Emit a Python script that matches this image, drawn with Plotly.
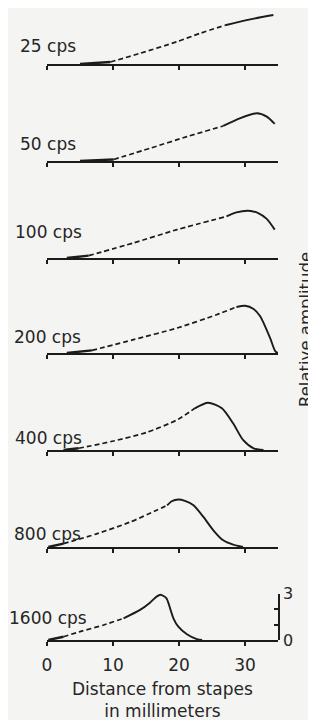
import plotly.graph_objects as go

# ---------------- data ----------------
labels = ["25 cps", "50 cps", "100 cps", "200 cps", "400 cps", "800 cps", "1600 cps"]

x_25 = [5.0, 9.6, 14.1, 19.7, 23.2, 27.0, 30.8, 34.3]
a_25 = [0.0, 0.13, 0.69, 1.44, 1.98, 2.50, 2.88, 3.16]
dash_25 = (9.6, 27.0)

x_50 = [5.0, 10.1, 15.6, 21.2, 26.7, 29.2, 31.8, 33.3, 34.5]
a_50 = [0.0, 0.10, 0.82, 1.57, 2.26, 2.75, 3.08, 2.86, 2.39]
dash_50 = (10.1, 26.7)

x_100 = [3.0, 6.3, 13.1, 19.7, 27.2, 28.7, 30.5, 32.0, 33.3, 34.5]
a_100 = [0.0, 0.15, 0.97, 1.83, 2.68, 2.94, 3.05, 2.90, 2.52, 1.83]
dash_100 = (6.3, 27.2)

x_200 = [3.0, 6.8, 13.1, 19.7, 25.7, 28.7, 30.0, 31.3, 32.3, 33.8, 34.6, 35.0]
a_200 = [0.0, 0.17, 0.86, 1.61, 2.47, 2.97, 3.05, 2.84, 2.37, 0.97, 0.10, 0.0]
dash_200 = (6.8, 28.7)

x_400 = [2.5, 4.8, 10.1, 15.1, 19.7, 22.4, 24.4, 26.5, 28.2, 29.7, 31.3, 32.8]
a_400 = [0.0, 0.11, 0.58, 1.14, 1.94, 2.69, 3.05, 2.69, 1.72, 0.65, 0.11, 0.0]
dash_400 = (4.8, 22.4)

x_800 = [0.2, 2.5, 7.6, 12.6, 16.6, 18.2, 18.9, 19.9, 20.9, 22.2, 23.7, 25.2, 26.7, 28.2, 29.7]
a_800 = [0.0, 0.22, 0.86, 1.61, 2.37, 2.69, 2.95, 3.06, 2.97, 2.69, 1.94, 1.08, 0.43, 0.15, 0.0]
dash_800 = (2.5, 18.2)

x_1600 = [0.2, 2.5, 5.0, 8.6, 11.6, 14.1, 15.6, 16.6, 17.2, 18.1, 18.65, 19.15, 19.9, 21.2, 22.7, 23.5]
a_1600 = [0.0, 0.21, 0.54, 0.97, 1.40, 1.94, 2.41, 2.80, 2.92, 2.69, 2.04, 1.40, 0.86, 0.37, 0.06, 0.0]
dash_1600 = (2.5, 11.6)

series = [
    (x_25, a_25, dash_25),
    (x_50, a_50, dash_50),
    (x_100, a_100, dash_100),
    (x_200, a_200, dash_200),
    (x_400, a_400, dash_400),
    (x_800, a_800, dash_800),
    (x_1600, a_1600, dash_1600),
]

x_ticks = [0, 10, 20, 30]
scale_ticks = [0, 1, 2, 3]
scale_text = ["0", "", "", "3"]
x_title = "Distance from stapes<br>in millimeters"
y_title = "Relative amplitude"

# ---------------- layout geometry ----------------
# the page body has an 8px default margin, so the figure is drawn 8px in
OFF = 8
W, H = 316 - OFF, 720 - OFF
ML, MR, MB = 47 - OFF, 38, 80
row_px = 56
baselines_ref = [64, 161, 258, 353, 450, 547, 640]
baselines_px = [b - OFF for b in baselines_ref]
MT = baselines_px[0] - row_px
PH = H - MT - MB
PW = W - ML - MR
px_per_unit = 15.5
y_max = row_px / px_per_unit
label_left_ref = [18, 18, 13, 12, 13, 12, 7]
label_up_px = [18, 17.5, 26, 16, 12.5, 12.7, 21.7]

INK = "#1b1b1b"
TXT = "#262626"
BG = "#f4f4f2"
FONT = "DejaVu Sans"


def dom(py):
    return 1 - (py - MT) / PH


def xpaper(px_ref):
    return (px_ref - OFF - ML) / PW


fig = go.Figure()
layout = dict(
    width=W, height=H,
    margin=dict(l=ML, r=MR, t=MT, b=MB, pad=0, autoexpand=False),
    paper_bgcolor=BG, plot_bgcolor="rgba(0,0,0,0)",
    showlegend=False,
    font=dict(family=FONT, color=TXT, size=16),
)
annotations = []

for i, (xs, ys, (d0, d1)) in enumerate(series):
    n = i + 1
    xa = "x" if n == 1 else f"x{n}"
    ya = "y" if n == 1 else f"y{n}"
    seg_a = [(x, y) for x, y in zip(xs, ys) if x <= d0]
    seg_d = [(x, y) for x, y in zip(xs, ys) if d0 <= x <= d1]
    seg_b = [(x, y) for x, y in zip(xs, ys) if x >= d1]
    for seg, dash, w in ((seg_a, "solid", 2.4), (seg_d, "5px,3px", 1.7), (seg_b, "solid", 1.9)):
        if len(seg) < 2:
            continue
        fig.add_trace(go.Scatter(
            x=[p[0] for p in seg], y=[p[1] for p in seg],
            mode="lines", xaxis=xa, yaxis=ya,
            line=dict(color=INK, width=w, dash=dash, shape="spline", smoothing=0.7),
            hoverinfo="skip",
        ))
    b = baselines_px[i]
    layout[f"xaxis{'' if n == 1 else n}"] = dict(
        anchor=ya, domain=[0, 1], range=[0, 35], automargin=False,
        showline=True, linecolor=INK, linewidth=2,
        ticks="outside", ticklen=4, tickwidth=1.5, tickcolor=INK,
        tickvals=x_ticks, showticklabels=(n == 7),
        tickfont=dict(family=FONT, size=17, color=TXT),
        ticklabelstandoff=5,
        showgrid=False, zeroline=False, fixedrange=True,
    )
    layout[f"yaxis{'' if n == 1 else n}"] = dict(
        anchor=xa, domain=[dom(b), min(1, dom(b - row_px))], automargin=False,
        range=[0, y_max], visible=False, fixedrange=True,
    )
    annotations.append(dict(
        text=labels[i], xref="paper", yref=ya,
        x=xpaper(label_left_ref[i]), y=label_up_px[i] / px_per_unit,
        xanchor="left", yanchor="middle", showarrow=False,
        font=dict(family=FONT, size=17, color=TXT),
    ))

# scale bar (relative amplitude 0..3) beside the 1600 cps trace
fig.add_trace(go.Scatter(x=[None], y=[None], xaxis="x7", yaxis="y8", mode="lines",
                         hoverinfo="skip"))
layout["yaxis8"] = dict(
    anchor="x7", side="right", automargin=False,
    domain=[dom(baselines_px[6]), dom(baselines_px[6] - 3 * px_per_unit)],
    range=[0, 3], showline=True, linecolor=INK, linewidth=1.5,
    ticks="inside", ticklen=4, tickwidth=1.5, tickcolor=INK,
    tickvals=scale_ticks, ticktext=scale_text,
    tickfont=dict(family=FONT, size=16, color=TXT),
    showgrid=False, zeroline=False, fixedrange=True,
)

annotations.append(dict(
    text=x_title, xref="paper", yref="paper",
    x=0.5, y=dom(700 - OFF), xanchor="center", yanchor="middle", showarrow=False,
    font=dict(family=FONT, size=17, color=TXT),
))
annotations.append(dict(
    text=y_title, xref="paper", yref="paper",
    x=xpaper(305), y=dom(330 - OFF), xanchor="center", yanchor="middle",
    textangle=-90, showarrow=False,
    font=dict(family=FONT, size=16.5, color=TXT),
))
layout["annotations"] = annotations

fig.update_layout(**layout)
fig.write_html("out.html")
